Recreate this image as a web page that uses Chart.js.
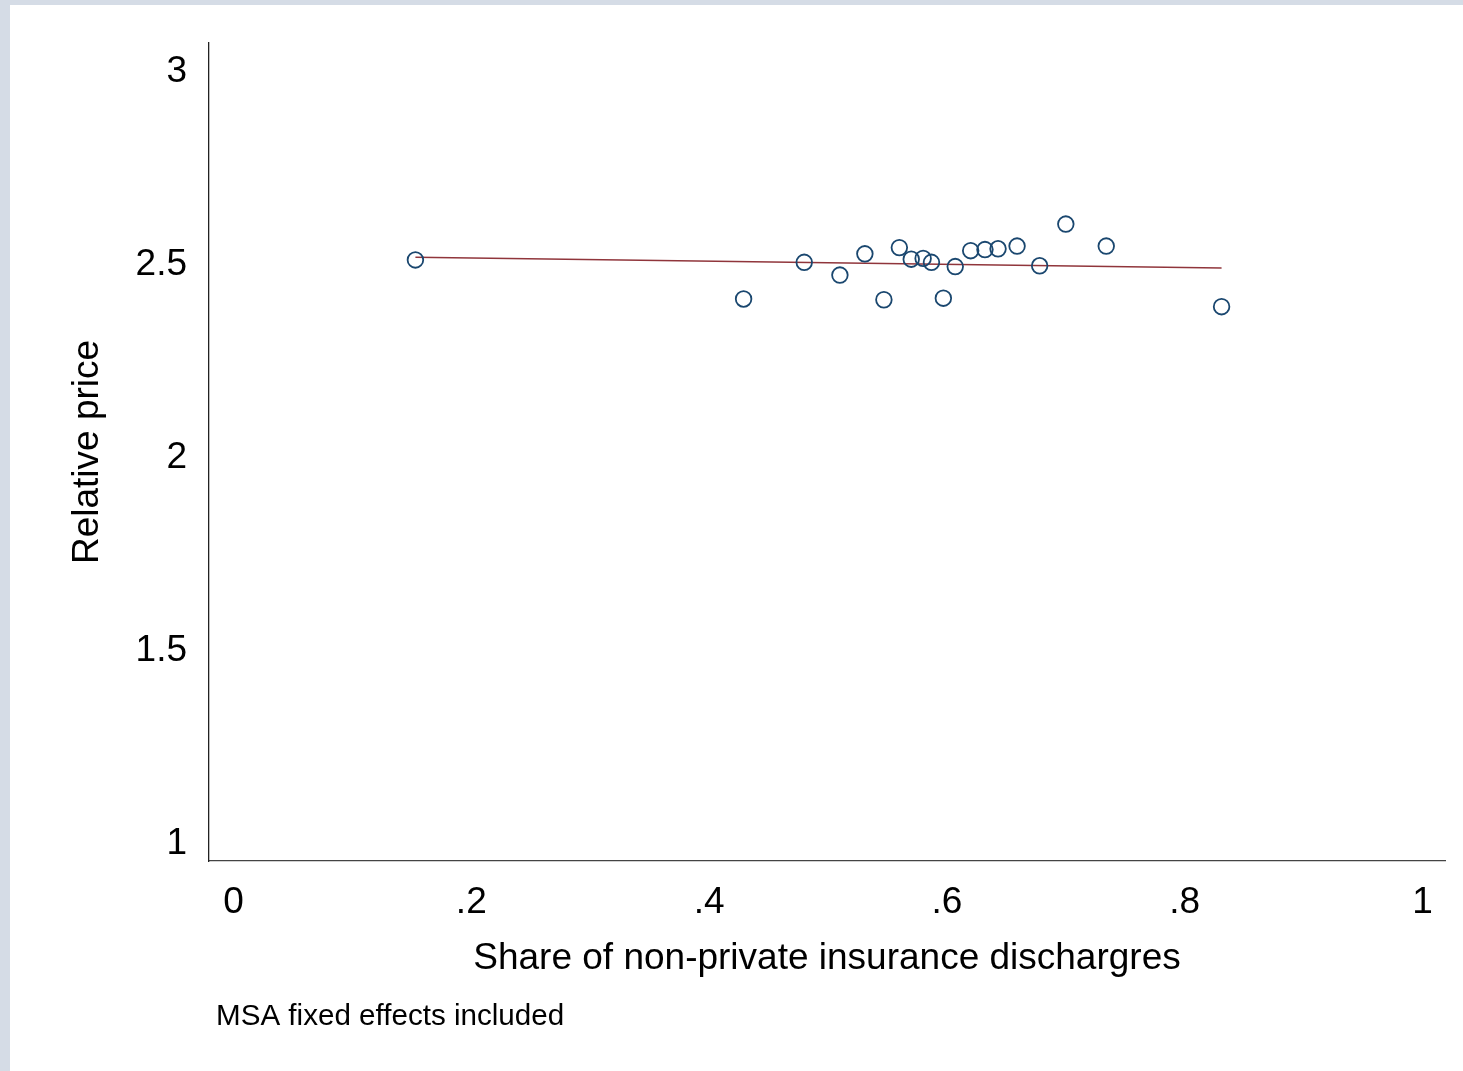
<!DOCTYPE html>
<html>
<head>
<meta charset="utf-8">
<script src="https://cdn.jsdelivr.net/npm/chart.js@4"></script>
<style>
  html, body { margin: 0; padding: 0; background: #ffffff; }
  #wrap { position: absolute; left: 0; top: 0; width: 1463px; height: 1071px; }
</style>
</head>
<body>
<div id="wrap"><canvas id="c"></canvas></div>
<script>
// ---- Data ----
const shareNonPrivate = [0.153, 0.429, 0.480, 0.510, 0.531, 0.547, 0.560, 0.570, 0.580, 0.587,
                         0.597, 0.607, 0.620, 0.632, 0.643, 0.659, 0.678, 0.700, 0.734, 0.831];
const relativePrice   = [2.503, 2.402, 2.497, 2.464, 2.519, 2.400, 2.535, 2.505, 2.507, 2.497,
                         2.404, 2.486, 2.527, 2.530, 2.532, 2.539, 2.488, 2.596, 2.539, 2.382];
const fitX = [0.153, 0.831];
const fitY = [2.510, 2.4825];

const xTickValues = [0, 0.2, 0.4, 0.6, 0.8, 1];
const xTickLabels = ['0', '.2', '.4', '.6', '.8', '1'];
const yTickValues = [1, 1.5, 2, 2.5, 3];
const yTickLabels = ['1', '1.5', '2', '2.5', '3'];

const xTitle = 'Share of non-private insurance dischargres';
const yTitle = 'Relative price';
const noteText = 'MSA fixed effects included';

// ---- Chart ----
const FONT = '"Liberation Sans", Arial, Helvetica, sans-serif';

const framePlugin = {
  id: 'frame',
  beforeDraw(chart) {
    const ctx = chart.ctx;
    ctx.save();
    ctx.fillStyle = '#d5dce6';
    ctx.fillRect(0, 0, chart.width, chart.height);
    ctx.fillStyle = '#ffffff';
    ctx.fillRect(10, 5, chart.width - 10, chart.height - 5);
    ctx.restore();
  },
  afterDraw(chart) {
    const ctx = chart.ctx;
    ctx.save();
    ctx.fillStyle = '#000000';
    ctx.font = '29.6px ' + FONT;
    ctx.textAlign = 'left';
    ctx.textBaseline = 'middle';
    ctx.fillText(noteText, chart.chartArea.left + 7, 1017);
    ctx.restore();
  }
};

const scatterData = shareNonPrivate.map((x, i) => ({ x: x, y: relativePrice[i] }));
const fitData = fitX.map((x, i) => ({ x: x, y: fitY[i] }));

new Chart(document.getElementById('c'), {
  type: 'scatter',
  data: {
    datasets: [
      {
        type: 'line',
        label: 'Fitted values',
        data: fitData,
        borderColor: '#90353b',
        borderWidth: 1.5,
        pointRadius: 0,
        fill: false,
        order: 2
      },
      {
        label: 'Relative price',
        data: scatterData,
        pointStyle: 'circle',
        pointRadius: 7.8,
        pointBorderWidth: 1.8,
        borderColor: '#1a476f',
        backgroundColor: 'rgba(0,0,0,0)',
        order: 1
      }
    ]
  },
  options: {
    responsive: true,
    maintainAspectRatio: false,
    animation: false,
    events: [],
    layout: { padding: { left: 0, top: 43, right: 18, bottom: 80 } },
    plugins: {
      legend: { display: false },
      tooltip: { enabled: false },
      title: { display: false }
    },
    scales: {
      x: {
        type: 'linear',
        position: 'bottom',
        min: -0.0206,
        max: 1.0189,
        afterBuildTicks(scale) { scale.ticks = xTickValues.map(v => ({ value: v })); },
        afterFit(scale) { scale.height = 130; },
        grid: { display: false, drawTicks: false },
        border: { display: true, color: '#444444', width: 1.3 },
        ticks: {
          padding: 20,
          color: '#000000',
          font: { family: FONT, size: 37 },
          maxRotation: 0,
          autoSkip: false,
          callback(value) {
            const i = xTickValues.findIndex(v => Math.abs(v - value) < 1e-9);
            return i >= 0 ? xTickLabels[i] : '';
          }
        },
        title: {
          display: true,
          text: xTitle,
          color: '#000000',
          font: { family: FONT, size: 37 },
          padding: { top: 0, bottom: 10 }
        }
      },
      y: {
        type: 'linear',
        position: 'left',
        min: 0.947,
        max: 3.0647,
        afterBuildTicks(scale) { scale.ticks = yTickValues.map(v => ({ value: v })); },
        afterFit(scale) { scale.width = 209; },
        grid: { display: false, drawTicks: false },
        border: { display: true, color: '#222222', width: 1.3 },
        ticks: {
          padding: 22,
          color: '#000000',
          font: { family: FONT, size: 37, lineHeight: '7px' },
          autoSkip: false,
          callback(value) {
            const i = yTickValues.findIndex(v => Math.abs(v - value) < 1e-9);
            return i >= 0 ? ['', yTickLabels[i]] : '';
          }
        },
        title: {
          display: true,
          text: yTitle,
          color: '#000000',
          font: { family: FONT, size: 37 },
          padding: { top: 66, bottom: 0 }
        }
      }
    }
  },
  plugins: [framePlugin]
});
</script>
</body>
</html>
